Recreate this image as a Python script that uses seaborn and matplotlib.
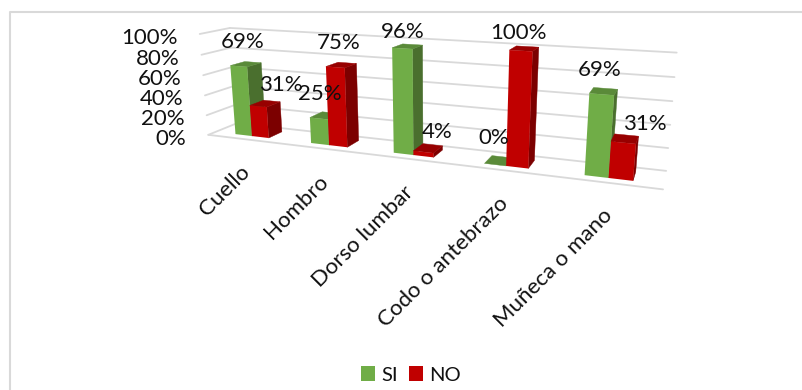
import numpy as np
import pandas as pd
import matplotlib
matplotlib.use("Agg")
import matplotlib.pyplot as plt
from matplotlib.patches import Polygon
from matplotlib.transforms import Transform
from matplotlib.lines import Line2D
import seaborn as sns

# ---- data
categories = ["Cuello", "Hombro", "Dorso lumbar", "Codo o antebrazo", "Muñeca o mano"]
si_values = [69, 25, 96, 0, 69]
no_values = [31, 75, 4, 100, 31]
series_names = ["SI", "NO"]
y_ticks = [0, 20, 40, 60, 80, 100]

# ---- style
FRONT = {"SI": "#70ad47", "NO": "#c00000"}
SIDE = {"SI": "#4a6f2e", "NO": "#7c0000"}
TOP = {"SI": "#5a8a39", "NO": "#970000"}
GRID = "#d9d9d9"
W, H = 802, 390
BAR_GROUP = 0.45
Z_FRONT, Z_BACK = 0.25, 0.75
FONT = "Lato"

sns.set_theme(style="white")
plt.rcParams["font.family"] = [FONT, "DejaVu Sans"]

# ---- perspective camera fitted on the reference's frame (x index, value, depth) -> pixel
_cam = [
    ((-.5, 0, 0), (208, 135)), ((-.5, 100, 0), (197, 34)),
    ((-.5, 0, 1), (233, 125)), ((-.5, 100, 1), (233, 28)),
    ((4.5, 0, 1), (666, 170)), ((4.5, 100, 1), (677, 52)),
    ((4.5, 0, 0), (663, 192)),
    ((-.225, 0, .25), (238, 133)), ((.225, 0, .25), (271, 137)),
    ((3.775, 0, .25), (583, 175)), ((4.225, 0, .25), (634, 181)),
    ((3, 100, .25), (508, 51)), ((3.225, 100, .25), (533, 51)),
    ((3, 0, .25), (506, 165)), ((3.225, 0, .25), (529, 168)),
]
A, b = [], []
for (x, y, z), (u, v) in _cam:
    A.append([x, y, z, 1, 0, 0, 0, 0, -u * x, -u * y, -u * z])
    b.append(u)
    A.append([0, 0, 0, 0, x, y, z, 1, -v * x, -v * y, -v * z])
    b.append(v)
P = np.append(np.linalg.lstsq(np.array(A, float), np.array(b, float), rcond=None)[0], 1).reshape(3, 4)


def project(x, y, z):
    """data -> display pixels (origin bottom-left)"""
    q = P @ np.array([x, y, z, np.ones_like(x)], float)
    return q[0] / q[2], H - q[1] / q[2]


class Plane(Transform):
    input_dims = output_dims = 2

    def __init__(self, z):
        super().__init__()
        self.z = z

    def transform_non_affine(self, values):
        v = np.asarray(values, float)
        return np.column_stack(project(v[:, 0], v[:, 1], np.full(len(v), self.z)))


fig = plt.figure(figsize=(W / 100, H / 100), dpi=100)
ax = fig.add_axes([0, 0, 1, 1])

df = pd.DataFrame({
    "categoria": categories * 2,
    "serie": np.repeat(series_names, len(categories)),
    "valor": si_values + no_values,
})
sns.barplot(data=df, x="categoria", y="valor", hue="serie", palette=FRONT, width=BAR_GROUP,
            order=categories, hue_order=series_names, saturation=1, ax=ax, legend=False, zorder=10)
ax.set_axis_off()


def face(pts, color, zorder):
    xy = np.column_stack(project(*np.array(pts, float).T))
    ax.add_patch(Polygon(xy, closed=True, transform=None, facecolor=color, edgecolor=color,
                         linewidth=0.3, zorder=zorder, clip_on=False))


# ---- grid (walls)
for t in y_ticks:
    for pts in ([(-.5, t, 0), (-.5, t, 1)], [(-.5, t, 1), (4.5, t, 1)]):
        xy = np.column_stack(project(*np.array(pts, float).T))
        ax.add_line(Line2D(xy[:, 0], xy[:, 1], transform=None, color=GRID, lw=1.3, zorder=1, clip_on=False))
xy = np.column_stack(project(*np.array([(-.5, 0, 0), (4.5, 0, 0)], float).T))
ax.add_line(Line2D(xy[:, 0], xy[:, 1], transform=None, color=GRID, lw=1.3, zorder=1, clip_on=False))

# ---- bars: seaborn's rectangles are re-projected, with their 3-D faces
bars = [p for p in ax.patches if p.get_width() > 0]
front_plane = Plane(Z_FRONT)
tops = []
for i, p in enumerate(bars):
    name = series_names[i // len(categories)]
    cat = i % len(categories)
    x0, x1, h = p.get_x(), p.get_x() + p.get_width(), p.get_height()
    base = 3 + cat * 10 + (i // len(categories)) * 5
    face([(x0, h, Z_FRONT), (x1, h, Z_FRONT), (x1, h, Z_BACK), (x0, h, Z_BACK)], TOP[name], base + 1)
    face([(x1, 0, Z_FRONT), (x1, h, Z_FRONT), (x1, h, Z_BACK), (x1, 0, Z_BACK)], SIDE[name], base)
    p.set_transform(front_plane)
    p.set_zorder(base + 2)
    p.set_clip_on(False)
    p.set_edgecolor("none")
    tops.append(((x0 + x1) / 2, h))

# ---- data labels, anchored on the top of their bar
label_offsets = [(-10, 20), (-11, 19), (-10, 12), (-9, 19), (-6, 18),
                 (9, 16), (-9, 20), (4, 13), (-9, 14), (18, 11)]
for (xm, h), (dx, dy) in zip(tops, label_offsets):
    px, py = project(np.array([xm]), np.array([h]), np.array([Z_BACK]))
    ax.annotate(f"{h:.0f}%", xy=(px[0], py[0]), xycoords="figure pixels", xytext=(dx * .72, dy * .72),
                textcoords="offset points", ha="center", va="center", fontsize=16, color="#111111",
                zorder=200, annotation_clip=False)

# ---- value axis labels
for t in y_ticks:
    px, py = project(np.array([-.5]), np.array([float(t)]), np.array([0.]))
    ax.annotate(f"{t}%", xy=(px[0], py[0]), xycoords="figure pixels", xytext=(-22 * .72, -4 * .72),
                textcoords="offset points", ha="right", va="center", fontsize=16, color="#111111",
                annotation_clip=False)

# ---- category labels
for i, c in enumerate(categories):
    px, py = project(np.array([float(i)]), np.array([0.]), np.array([0.]))
    ax.annotate(c, xy=(px[0], py[0]), xycoords="figure pixels", xytext=(-5 * .72, -23 * .72),
                textcoords="offset points", ha="right", va="top", rotation=45, rotation_mode="anchor",
                fontsize=16, color="#111111", annotation_clip=False)

# ---- legend and chart frame
handles = [plt.Rectangle((0, 0), 1, 1, facecolor=FRONT[n], edgecolor="none") for n in series_names]
fig.legend(handles, series_names, loc="center", bbox_to_anchor=(411 / W, 1 - 375 / H), ncol=2, frameon=False,
           fontsize=14.5, handlelength=0.72, handleheight=0.72, handletextpad=0.3, columnspacing=0.55,
           labelcolor="#111111")
fig.add_artist(Line2D([9.5 / W, 9.5 / W, 1], [0, 1 - 12 / H, 1 - 12 / H], transform=fig.transFigure,
                      color=GRID, lw=1.5))

fig.savefig("out.png", dpi=100)
